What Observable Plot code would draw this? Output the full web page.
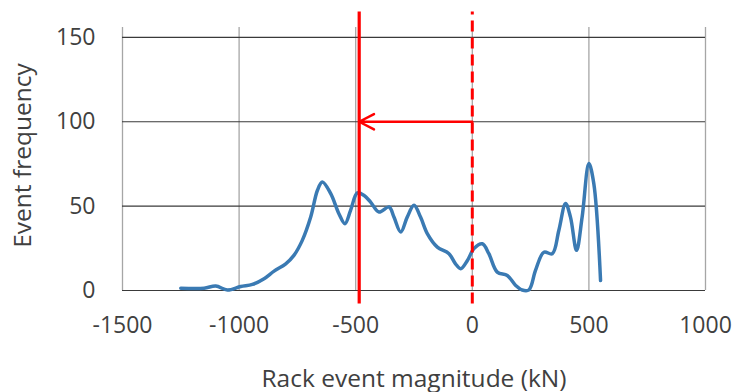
<!DOCTYPE html>
<html>
<head>
<meta charset="utf-8">
<script src="https://cdn.jsdelivr.net/npm/d3@7"></script>
<script src="https://cdn.jsdelivr.net/npm/@observablehq/plot@0.6"></script>
<style>
  html, body { margin: 0; padding: 0; background: #fff; }
  #chart { width: 735px; height: 392px; }
  g[aria-label="x-axis label"], g[aria-label="y-axis label"] { font-size: 24.5px; }
</style>
</head>
<body>
<div id="chart"></div>
<script>
// Rack event magnitude (kN) and event frequency
const magnitude = [-1250,-1150,-1100,-1050,-993,-943,-893,-850,-800,-765,-729,-693,-664,-643,-607,-572,-546,-522,-493,-465,-436,-400,-357,-336,-307,-279,-250,-222,-193,-150,-100,-72,-50,-21,7,43,71,107,150,186,214,243,271,307,343,371,400,421,447,471,500,521,550];
const frequency = [1.4,1.4,2.6,0.3,2.4,3.6,7,11.5,15.8,20.8,29.7,43.5,59.4,64.3,57.4,45.5,39.6,47.5,57.8,56.4,52.4,46.5,49.5,43.5,34.6,43.5,50.5,43.5,33.7,25.7,21.8,15.8,12.9,17.8,24.8,27.7,21.8,10.9,8.9,3,0.3,0.4,11.9,22.7,21.8,35.6,51.5,43.5,23.8,43.5,75.2,63.4,5.9];

const xTicks = [-1500, -1000, -500, 0, 500, 1000];
const yTicks = [0, 50, 100, 150];
const xDomain = [-1500, 1000];
const yDomain = [0, 160];

// Annotations: shifted threshold (solid), original (dashed), arrow between them
const shiftedX = [-485];
const originX = [0];
const markerSpan = [-8, 165];
const arrowY = 100;

const data = magnitude.map((m, i) => ({x: m, y: frequency[i]}));

const chart = Plot.plot({
  width: 735,
  height: 392,
  marginLeft: 122,
  marginRight: 30,
  marginTop: 20,
  marginBottom: 102,
  style: {fontFamily: "'Open Sans', sans-serif", fontSize: "23px", color: "#404040", background: "#fff"},
  x: {
    domain: xDomain, ticks: xTicks, tickSize: 0, tickPadding: 26, tickFormat: d => String(d),
    label: "Rack event magnitude (kN)", labelAnchor: "center", labelOffset: 96, labelArrow: "none"
  },
  y: {
    domain: yDomain, ticks: yTicks, tickSize: 0, tickPadding: 27, tickFormat: d => String(d),
    label: "Event frequency", labelAnchor: "center", labelOffset: 109, labelArrow: "none"
  },
  marks: [
    Plot.ruleX(xTicks, {x: d => d, y1: yDomain[0], y2: yDomain[1], stroke: "#a6a6a6", strokeWidth: 1.3, insetBottom: -7}),
    Plot.ruleY(yTicks, {y: d => d, stroke: "#3a3a3a", strokeWidth: 1.2}),
    Plot.line(data, {x: "x", y: "y", stroke: "#3a7ab3", strokeWidth: 3.5, curve: "catmull-rom"}),
    Plot.ruleX(shiftedX, {x: d => d, y1: markerSpan[0], y2: markerSpan[1], stroke: "#ff0000", strokeWidth: 3.2}),
    Plot.ruleX(originX, {x: d => d, y1: markerSpan[0], y2: markerSpan[1], stroke: "#ff0000", strokeWidth: 3, strokeDasharray: "11,6"}),
    Plot.arrow([{x1: originX[0], x2: shiftedX[0], y: arrowY}], {x1: "x1", x2: "x2", y1: "y", y2: "y", stroke: "#ff0000", strokeWidth: 2.5, headLength: 10, headAngle: 55})
  ]
});
document.getElementById("chart").appendChild(chart);
</script>
</body>
</html>
